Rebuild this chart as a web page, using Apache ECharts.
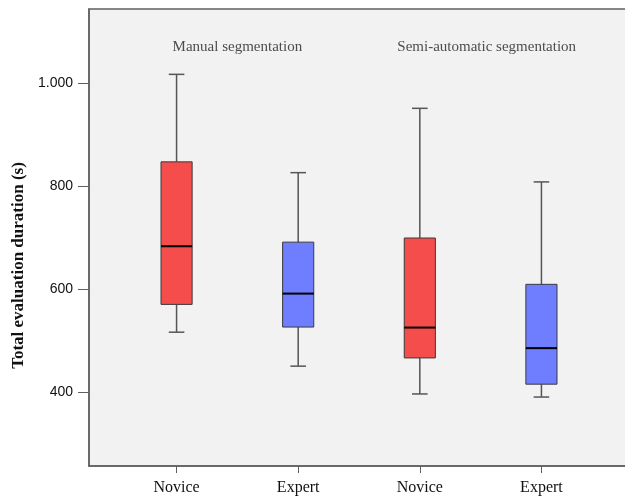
<!DOCTYPE html>
<html>
<head>
<meta charset="utf-8">
<title>Total evaluation duration</title>
<script src="https://cdn.jsdelivr.net/npm/echarts@6/dist/echarts.min.js"></script>
<style>
    html, body { margin: 0; padding: 0; background: #ffffff; }
    #chart { width: 625px; height: 496px; }
</style>
</head>
<body>
<div id="chart"></div>
<script>
// box positions on the x axis and their labels
const categories = ['Novice', 'Expert', 'Novice', 'Expert'];
const positions = [1, 2, 3, 4];

// five-number summaries (seconds)
const mins = [516, 450, 396, 390];
const q1s = [570, 526, 466, 415];
const medians = [683, 591, 525, 485];
const q3s = [847, 691, 699, 609];
const maxs = [1017, 826, 951, 808];

// group headings inside the plot
const groupLabels = ['Manual segmentation', 'Semi-automatic segmentation'];
const groupLabelX = [1.5, 3.55];
const groupLabelY = [1070, 1070];

const yTicks = [400, 600, 800, 1000];

const boxColors = ['#f54c4c', '#6f7dff'];

const boxData = positions.map((p, i) => [p, mins[i], q1s[i], medians[i], q3s[i], maxs[i]]);

function formatThousands(v) {
    return String(v).replace(/\B(?=(\d{3})+(?!\d))/g, '.');
}

function renderBox(params, api) {
    const x = api.value(0);
    const unit = api.size([1, 0])[0];
    const half = unit * 0.128; // box is about a quarter of the spacing
    const capHalf = half / 2;
    const pMin = api.coord([x, api.value(1)]);
    const pQ1 = api.coord([x, api.value(2)]);
    const pMed = api.coord([x, api.value(3)]);
    const pQ3 = api.coord([x, api.value(4)]);
    const pMax = api.coord([x, api.value(5)]);
    const cx = pMin[0];
    const whisker = { stroke: '#555555', lineWidth: 1.5 };
    return {
        type: 'group',
        children: [
            { type: 'line', shape: { x1: cx, y1: pQ3[1], x2: cx, y2: pMax[1] }, style: whisker },
            { type: 'line', shape: { x1: cx, y1: pQ1[1], x2: cx, y2: pMin[1] }, style: whisker },
            { type: 'line', shape: { x1: cx - capHalf, y1: pMax[1], x2: cx + capHalf, y2: pMax[1] }, style: whisker },
            { type: 'line', shape: { x1: cx - capHalf, y1: pMin[1], x2: cx + capHalf, y2: pMin[1] }, style: whisker },
            {
                type: 'rect',
                shape: { x: cx - half, y: pQ3[1], width: half * 2, height: pQ1[1] - pQ3[1] },
                style: { fill: boxColors[params.dataIndex % 2], stroke: '#3a3a3a', lineWidth: 1 }
            },
            { type: 'line', shape: { x1: cx - half, y1: pMed[1], x2: cx + half, y2: pMed[1] }, style: { stroke: '#000000', lineWidth: 2 } }
        ]
    };
}

const chart = echarts.init(document.getElementById('chart'));
const option = {
    animation: false,
    grid: {
        left: 89,
        right: -4,
        top: 9,
        bottom: 30,
        show: true,
        backgroundColor: '#f2f2f2',
        borderColor: '#606060',
        borderWidth: 1.5,
        outerBoundsMode: 'none'
    },
    xAxis: {
        type: 'value',
        min: 0.28,
        max: 4.72,
        axisLine: { show: true, lineStyle: { color: '#606060', width: 1.5 } },
        axisTick: { show: true, length: 7, customValues: positions, lineStyle: { color: '#606060' } },
        axisLabel: {
            customValues: positions,
            formatter: v => categories[positions.indexOf(v)],
            margin: 14,
            fontFamily: 'Liberation Serif',
            fontSize: 16,
            color: '#111111'
        },
        splitLine: { show: false }
    },
    yAxis: {
        type: 'value',
        min: 256,
        max: 1144,
        name: 'Total evaluation duration (s)',
        nameLocation: 'middle',
        nameGap: 62,
        nameTextStyle: {
            fontFamily: 'Liberation Serif',
            fontWeight: 'bold',
            fontSize: 17,
            color: '#111111',
            padding: [0, 56, 0, 0]
        },
        axisLine: { show: true, lineStyle: { color: '#606060', width: 1.5 } },
        axisTick: { show: true, length: 11, customValues: yTicks, lineStyle: { color: '#606060' } },
        axisLabel: {
            customValues: yTicks,
            formatter: v => formatThousands(v),
            margin: 16,
            fontFamily: 'Liberation Sans',
            fontSize: 14,
            color: '#111111'
        },
        splitLine: { show: false }
    },
    series: [
        {
            type: 'custom',
            renderItem: renderBox,
            encode: { x: 0, y: [1, 2, 3, 4, 5] },
            data: boxData,
            silent: true
        },
        {
            type: 'scatter',
            symbolSize: 0,
            silent: true,
            data: groupLabels.map((n, i) => ({ name: n, value: [groupLabelX[i], groupLabelY[i]] })),
            label: {
                show: true,
                position: 'inside',
                formatter: '{b}',
                fontFamily: 'Liberation Serif',
                fontSize: 15,
                color: '#222222'
            }
        }
    ]
};
chart.setOption(option);
</script>
</body>
</html>
